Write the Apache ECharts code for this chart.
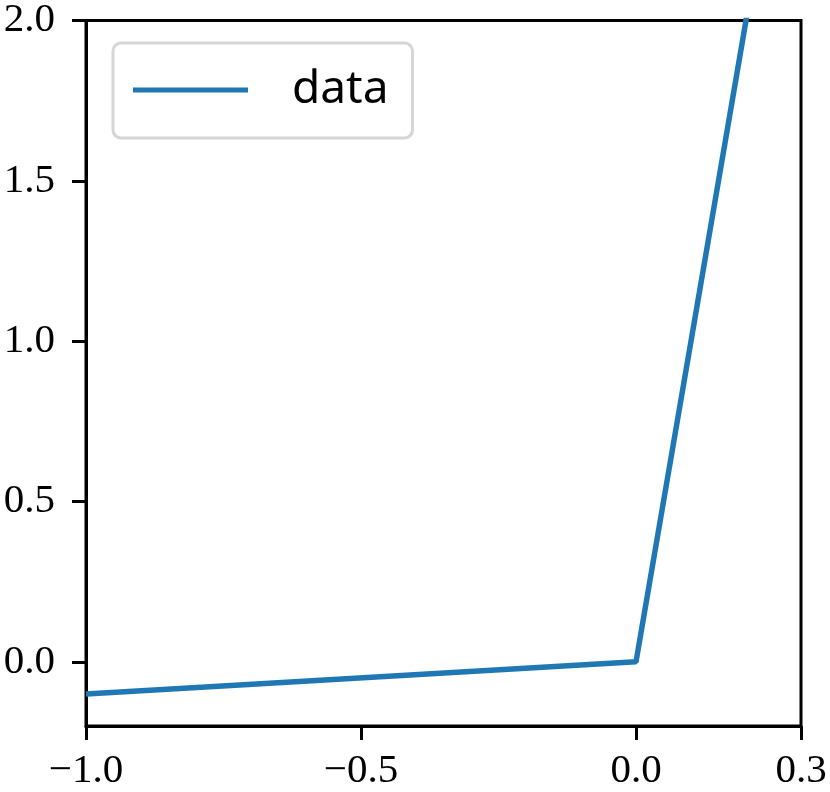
<!DOCTYPE html>
<html>
<head>
<meta charset="utf-8">
<script src="https://cdn.jsdelivr.net/npm/echarts@6/dist/echarts.min.js"></script>
<style>html,body{margin:0;padding:0;background:#fff}#c{width:830px;height:792px}</style>
</head>
<body>
<div id="c"></div>
<script>
const xValues = [-1.0, 0.0, 0.3];
const yValues = [-0.1, 0.0, 3.0];
const xTicks = [-1.0, -0.5, 0.0, 0.3];
const yTicks = [0.0, 0.5, 1.0, 1.5, 2.0];
const seriesName = 'data';

const chart = echarts.init(document.getElementById('c'), null, {renderer: 'canvas'});
const fmt = v => {
  const s = Math.abs(v).toFixed(1);
  return (v < -1e-9 ? '\u2212' : '') + s;
};
const serif = '"Liberation Serif", "DejaVu Serif", serif';
chart.setOption({
  animation: false,
  grid: {left: 86, right: 29, top: 15, bottom: 63, show: true, borderColor: '#000', borderWidth: 3, backgroundColor: 'transparent'},
  legend: {
    show: true, left: 113, top: 43,
    data: [seriesName],
    icon: 'rect', itemWidth: 115, itemHeight: 5,
    padding: [22, 24, 23, 20],
    borderColor: '#d6d6d6', borderWidth: 3, borderRadius: 8,
    backgroundColor: '#fff',
    textStyle: {fontFamily: '"Noto Sans", sans-serif', fontSize: 46, color: '#000', padding: [0, 0, 0, 39], lineHeight: 50}
  },
  xAxis: {
    type: 'value', min: -1.0, max: 0.3,
    axisLine: {show: true, onZero: false, lineStyle: {color: '#000', width: 3}},
    axisTick: {show: true, inside: false, length: 14, lineStyle: {color: '#000', width: 3}, customValues: xTicks},
    axisLabel: {customValues: xTicks, formatter: fmt, fontFamily: serif, fontSize: 41, color: '#000', margin: 25, showMinLabel: true, showMaxLabel: true},
    splitLine: {show: false}
  },
  yAxis: {
    type: 'value', min: -0.2, max: 2.0,
    axisLine: {show: true, onZero: false, lineStyle: {color: '#000', width: 3}},
    axisTick: {show: true, inside: false, length: 14, lineStyle: {color: '#000', width: 3}, customValues: yTicks},
    axisLabel: {customValues: yTicks, formatter: fmt, fontFamily: serif, fontSize: 41, color: '#000', margin: 31},
    splitLine: {show: false}
  },
  series: [{
    name: seriesName, type: 'line',
    data: xValues.map((x, i) => [x, yValues[i]]),
    showSymbol: false, symbol: 'none', clip: true,
    lineStyle: {color: '#1f77b4', width: 5.5},
    itemStyle: {color: '#1f77b4'}
  }]
});
</script>
</body>
</html>
